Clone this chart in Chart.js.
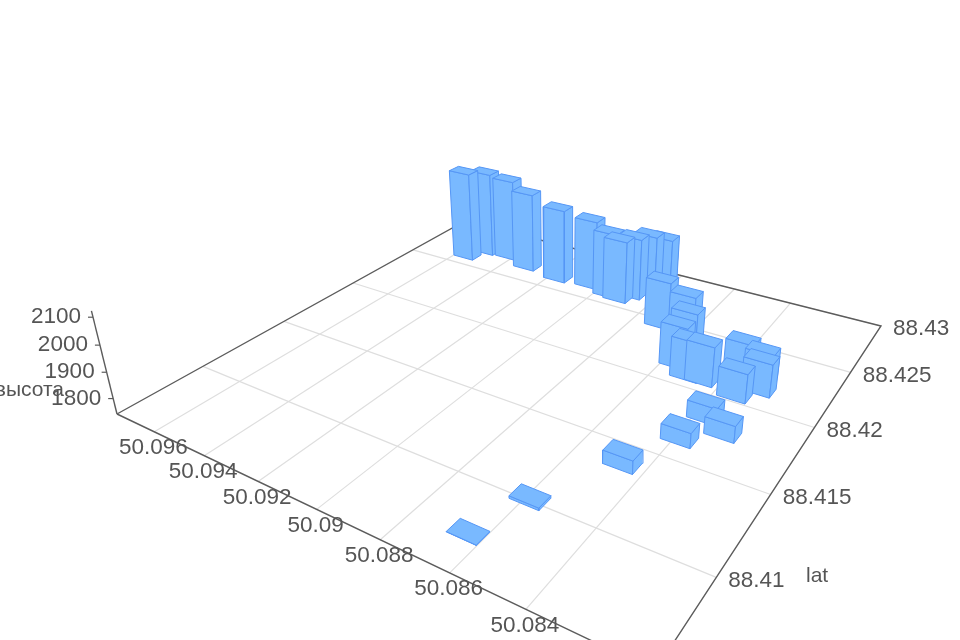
<!DOCTYPE html>
<html>
<head>
<meta charset="utf-8">
<style>
  body { margin: 0; background: #fff; }
  canvas { filter: blur(0.6px); }
</style>
<script src="https://cdn.jsdelivr.net/npm/chart.js"></script>
</head>
<body>
<canvas id="myChart" width="960" height="640"></canvas>
<script>
// values
const lonValues = [50.09556,50.09517,50.09424,50.09314,50.09169,50.09049,50.08959,50.08914,50.08885,50.08855,50.08827,50.08834,50.08710,50.08607,50.08568,50.08561,50.08504,50.08457,50.08375,50.08317,50.08297,50.08344,50.08371,50.08387,50.08299,50.08464,50.08589,50.08645];
const latValues = [88.42608,88.42719,88.42731,88.42668,88.42633,88.42654,88.42611,88.42595,88.42667,88.42748,88.42843,88.42861,88.42460,88.42398,88.42291,88.42163,88.42093,88.42096,88.42234,88.42249,88.42150,88.42053,88.41836,88.41641,88.41765,88.41376,88.41012,88.40745];
const heightValues = [2132,2112,2098,2082,2058,2035,2017,2003,2000,1994,1960,1923,1935,1929,1913,1906,1895,1896,1879,1855,1868,1853,1804,1796,1803,1789,1749,1741];

const lonTicks = [50.096,50.094,50.092,50.09,50.088,50.086,50.084];
const latTicks = [88.43,88.425,88.42,88.415,88.41];
const heightTicks = [1800,1900,2000,2100];

const lonRange = [50.081, 50.0976];
const latRange = [88.4055, 88.43];
const heightRange = [1740, 2122];

// view: where the floor corners land on the page, plus the vertical vanishing point
const c00 = [117,414], c10 = [655,671], c11 = [881,326], c01 = [465,221];
const vanish = [560,2200];
const kz = -0.0001428;

const dx1 = c10[0]-c11[0], dx2 = c01[0]-c11[0], sx = c00[0]-c10[0]+c11[0]-c01[0];
const dy1 = c10[1]-c11[1], dy2 = c01[1]-c11[1], sy = c00[1]-c10[1]+c11[1]-c01[1];
const den = dx1*dy2-dx2*dy1;
const g = (sx*dy2-dx2*sy)/den, h = (dx1*sy-sx*dy1)/den;

const project = (lon, lat, height) => {
    const a = (lonRange[1]-lon)/(lonRange[1]-lonRange[0]);
    const b = (lat-latRange[0])/(latRange[1]-latRange[0]);
    const q = kz*(height-heightRange[0]);
    const w = g*a+h*b+1+q;
    const x = (c10[0]-c00[0]+g*c10[0])*a+(c01[0]-c00[0]+h*c01[0])*b+c00[0]+q*vanish[0];
    const y = (c10[1]-c00[1]+g*c10[1])*a+(c01[1]-c00[1]+h*c01[1])*b+c00[1]+q*vanish[1];
    return {x: x/w, y: y/w, w: w};
};

const base = heightRange[0];
const line = (points, color, width) => ({data: points, showLine: true, pointRadius: 0, borderColor: color, borderWidth: width, tension: 0});

const datasets = [];
// floor grid
lonTicks.forEach(v => datasets.push(line([project(v,latRange[0],base), project(v,latRange[1],base)], '#dedede', 1.2)));
latTicks.forEach(v => datasets.push(line([project(lonRange[0],v,base), project(lonRange[1],v,base)], '#dedede', 1.2)));
// axes
datasets.push(line([project(lonRange[1],latRange[0],base), project(lonRange[1],latRange[1],base), project(lonRange[0],latRange[1],base), project(lonRange[0],latRange[0],base), project(lonRange[1],latRange[0],base)], '#5c5c5c', 1.4));
datasets.push(line([project(lonRange[1],latRange[0],base), project(lonRange[1],latRange[0],heightRange[1])], '#5c5c5c', 1.4));
heightTicks.forEach(v => {
    const p = project(lonRange[1],latRange[0],v);
    datasets.push(line([p, {x: p.x-5, y: p.y}], '#5c5c5c', 1.2));
});

// bars, far ones first
const halfLon = 0.00043, halfLat = 0.00041;
const barOrder = lonValues.map((v,i) => i).sort((i,j) => project(lonValues[j],latValues[j],base).w-project(lonValues[i],latValues[i],base).w);
barOrder.forEach(i => {
    const lon0 = lonValues[i]-halfLon, lon1 = lonValues[i]+halfLon;
    const lat0 = latValues[i]-halfLat, lat1 = latValues[i]+halfLat;
    const t = heightValues[i];
    const faces = [
        [[lon1,lat0,base],[lon0,lat0,base],[lon0,lat0,t],[lon1,lat0,t]],
        [[lon0,lat0,base],[lon0,lat1,base],[lon0,lat1,t],[lon0,lat0,t]],
        [[lon1,lat0,t],[lon0,lat0,t],[lon0,lat1,t],[lon1,lat1,t]]
    ];
    faces.forEach(f => {
        const pts = f.map(p => project(p[0],p[1],p[2]));
        pts.push(pts[0]);
        const d = line(pts, '#5596f5', 1);
        d.faceColor = '#79b9ff';
        datasets.push(d);
    });
});
// chart.js paints the highest order first
datasets.forEach((d,i) => { d.order = datasets.length-i; });

const fillFaces = {
    id: 'fillFaces',
    beforeDatasetDraw(chart, args) {
        const color = chart.data.datasets[args.index].faceColor;
        if (!color) return;
        const ctx = chart.ctx;
        ctx.save();
        ctx.fillStyle = color;
        ctx.beginPath();
        args.meta.data.forEach((p,i) => i ? ctx.lineTo(p.x,p.y) : ctx.moveTo(p.x,p.y));
        ctx.closePath();
        ctx.fill();
        ctx.restore();
    }
};

const axisText = {
    id: 'axisText',
    afterDatasetsDraw(chart) {
        const ctx = chart.ctx, sx = chart.scales.x, sy = chart.scales.y;
        const put = (text, p, ox, oy, align) => {
            ctx.textAlign = align;
            ctx.fillText(text, sx.getPixelForValue(p.x)+ox, sy.getPixelForValue(p.y)+oy);
        };
        ctx.save();
        ctx.font = '22.5px "Liberation Sans"';
        ctx.fillStyle = '#555';
        ctx.textBaseline = 'middle';
        lonTicks.forEach(v => put(String(v), project(v,latRange[0],base), -1, 16, 'center'));
        latTicks.forEach(v => put(String(v), project(lonRange[0],v,base), 12, 3, 'left'));
        heightTicks.forEach(v => put(String(v), project(lonRange[1],latRange[0],v), -12, 0, 'right'));
        ctx.font = '21px "Liberation Sans"';
        ctx.textAlign = 'left';
        ctx.fillText('lat', 806, 576);
        ctx.textAlign = 'right';
        ctx.fillText('высота', 64, 390);
        ctx.restore();
    }
};

const ctx = document.getElementById('myChart').getContext('2d');
const myChart = new Chart(ctx, {
    type: 'scatter',
    data: {datasets: datasets},
    plugins: [fillFaces, axisText],
    options: {
        responsive: false,
        animation: false,
        layout: {padding: 0},
        plugins: {legend: {display: false}, tooltip: {enabled: false}},
        scales: {
            x: {type: 'linear', min: 0, max: 960, display: false},
            y: {type: 'linear', min: 0, max: 640, reverse: true, display: false}
        }
    }
});
</script>
</body>
</html>
